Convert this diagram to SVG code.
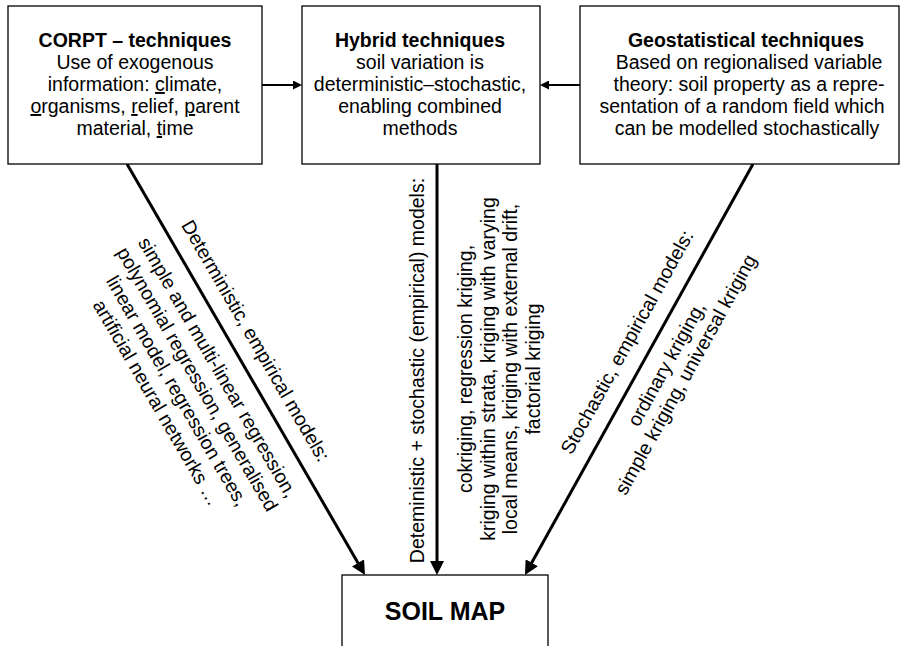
<svg xmlns="http://www.w3.org/2000/svg" width="901" height="646" viewBox="0 0 901 646">
<style>
.box{fill:#fff;stroke:#000;stroke-width:1.3}
.t{font-family:"Liberation Sans",Arial,sans-serif;font-size:19.5px;text-anchor:middle;fill:#000}
.b{font-weight:bold}
.u{text-decoration:underline}
.big{fill:none;stroke:#000;stroke-width:3;marker-end:url(#ah)}
.small{fill:none;stroke:#000;stroke-width:2;marker-end:url(#as)}
</style>
<defs>
<marker id="ah" markerUnits="userSpaceOnUse" markerWidth="14" markerHeight="14" refX="9" refY="7" orient="auto"><path d="M0,0 L14,7 L0,14 z" fill="#000"/></marker>
<marker id="as" markerUnits="userSpaceOnUse" markerWidth="9" markerHeight="9" refX="6" refY="4.5" orient="auto"><path d="M0,0 L9,4.5 L0,9 z" fill="#000"/></marker>
</defs>
<rect width="901" height="646" fill="#fff"/>
<g id="connectors">
<line class="small" x1="262" y1="85" x2="299" y2="85"/>
<line class="small" x1="580" y1="85" x2="543" y2="85"/>
<line class="big" x1="127" y1="164" x2="362.5" y2="570.7"/>
<line class="big" x1="437" y1="164" x2="437" y2="570"/>
<line class="big" x1="753" y1="164" x2="527.4" y2="570.6"/>
</g>
<g id="corpt">
<rect class="box" x="8" y="6" width="254" height="158"/>
<text class="t b" x="135" y="47">CORPT – techniques</text>
<text class="t" x="135" y="69">Use of exogenous</text>
<text class="t" x="135" y="91">information: <tspan class="u">c</tspan>limate,</text>
<text class="t" x="135" y="113"><tspan class="u">o</tspan>rganisms, <tspan class="u">r</tspan>elief, <tspan class="u">p</tspan>arent</text>
<text class="t" x="135" y="135">material, <tspan class="u">t</tspan>ime</text>
</g>
<g id="hybrid">
<rect class="box" x="302" y="6" width="238" height="158"/>
<text class="t b" x="420" y="47">Hybrid techniques</text>
<text class="t" x="420" y="69">soil variation is</text>
<text class="t" x="420" y="91">deterministic–stochastic,</text>
<text class="t" x="420" y="113">enabling combined</text>
<text class="t" x="420" y="135">methods</text>
</g>
<g id="geostat">
<rect class="box" x="580" y="6" width="319" height="158"/>
<text class="t b" x="746" y="47">Geostatistical techniques</text>
<text class="t" x="749" y="69">Based on regionalised variable</text>
<text class="t" x="749" y="91">theory: soil property as a repre-</text>
<text class="t" x="742" y="113">sentation of a random field which</text>
<text class="t" x="747" y="135">can be modelled stochastically</text>
</g>
<g id="soilmap">
<rect class="box" x="342" y="575" width="206" height="80"/>
<text class="t b" x="445" y="620" style="font-size:25px">SOIL MAP</text>
</g>
<g id="label-left" transform="translate(238,355.6) rotate(59.9)">
<text class="t" x="-4" y="-16">Deterministic, empirical models:</text>
<text class="t" x="0" y="30">simple and multi-linear regression,</text>
<text class="t" x="0" y="53.5">polynomial regression, generalised</text>
<text class="t" x="0" y="77">linear model, regression trees,</text>
<text class="t" x="0" y="100.5">artificial neural networks …</text>
</g>
<g id="label-middle">
<text class="t" transform="translate(424,370.5) rotate(-90)">Deteministic + stochastic (empirical) models:</text>
<g transform="translate(0,369) rotate(-90)">
<text class="t" x="0" y="472">cokriging, regression kriging,</text>
<text class="t" x="0" y="494.5">kriging within strata, kriging with varying</text>
<text class="t" x="0" y="517">local means, kriging with external drift,</text>
<text class="t" x="0" y="539.5">factorial kriging</text>
</g>
</g>
<g id="label-right" transform="translate(647.7,353.6) rotate(-61)">
<text class="t" x="0" y="-17">Stochastic, empirical models:</text>
<text class="t" x="0" y="28">ordinary kriging,</text>
<text class="t" x="0" y="50">simple kriging, universal kriging</text>
</g>
</svg>
